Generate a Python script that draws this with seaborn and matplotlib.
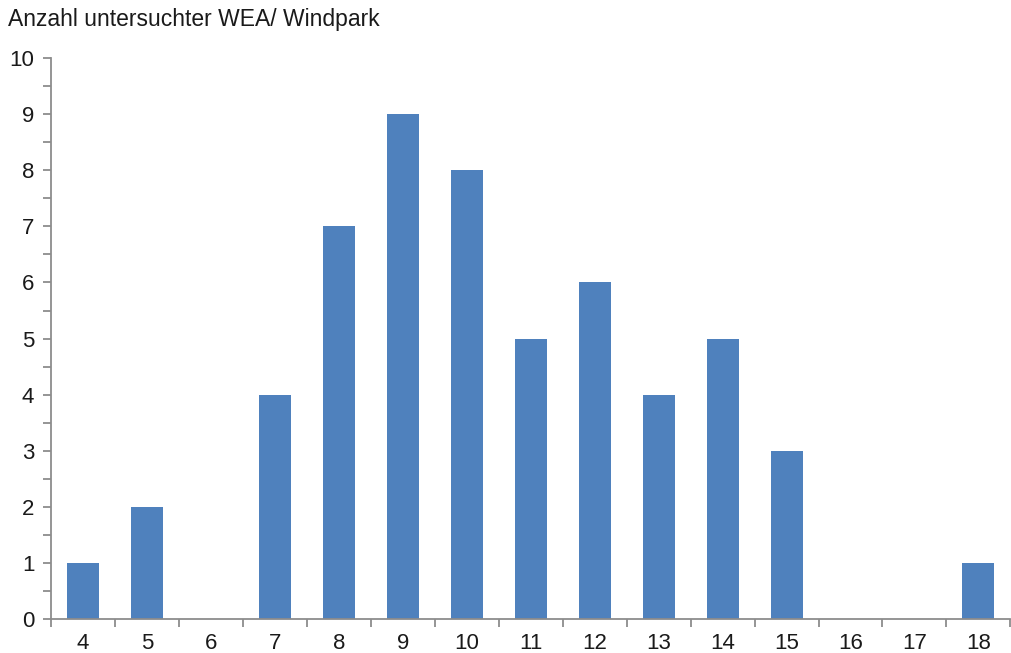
import numpy as np
import pandas as pd
import seaborn as sns
import matplotlib.pyplot as plt
from matplotlib.ticker import MultipleLocator, FixedLocator

# WEA per wind park (x) and number of parks (y)
categories = ['4', '5', '6', '7', '8', '9', '10', '11', '12', '13', '14', '15', '16', '17', '18']
counts = [1, 2, 0, 4, 7, 9, 8, 5, 6, 4, 5, 3, 0, 0, 1]

df = pd.DataFrame({'WEA': categories, 'Anzahl': counts})

sns.set_style('white')
plt.rcParams['font.family'] = ['Liberation Sans', 'DejaVu Sans']

fig = plt.figure(figsize=(10.11, 6.53), dpi=100)
ax = fig.add_axes([0.0504, 0.052, 0.949, 0.859])

sns.barplot(data=df, x='WEA', y='Anzahl', order=categories, color='#4F81BD',
            saturation=1, width=0.5, linewidth=0, ax=ax)

ax.set_xlim(-0.5, len(categories) - 0.5)
ax.set_ylim(0, 10)
ax.set_xlabel('')
ax.set_ylabel('')

gray = '#8C8C8C'
txt = '#1a1a1a'
for side in ['top', 'right']:
    ax.spines[side].set_visible(False)
for side in ['left', 'bottom']:
    ax.spines[side].set_color(gray)
    ax.spines[side].set_linewidth(1.3)

# y ticks: majors at integers, minors at halves
ax.yaxis.set_major_locator(MultipleLocator(1))
ax.yaxis.set_minor_locator(MultipleLocator(0.5))
ax.tick_params(axis='y', which='both', left=True, direction='out', color=gray,
               width=1.3, length=6, labelsize=16, labelcolor=txt, pad=6)

# x ticks: labels at centres, tick marks between categories
ax.tick_params(axis='x', which='major', length=0, labelsize=16, labelcolor=txt, pad=10)
ax.xaxis.set_minor_locator(FixedLocator(np.arange(-0.5, len(categories), 1.0)))
ax.tick_params(axis='x', which='minor', bottom=True, direction='out', color=gray,
               width=1.3, length=6)

fig.text(0.008, 0.988, 'Anzahl untersuchter WEA/ Windpark', fontsize=16.5,
         ha='left', va='top', color=txt)

fig.savefig('out.png', dpi=100)
